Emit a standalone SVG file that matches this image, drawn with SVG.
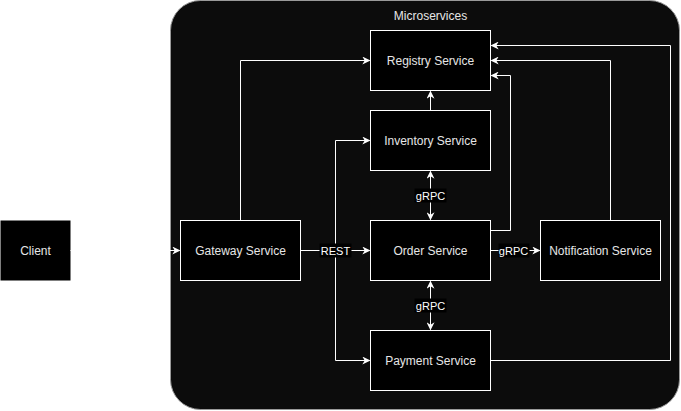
<svg xmlns="http://www.w3.org/2000/svg" width="681" height="411" viewBox="0 0 681 411">
<style>
.box{fill:#000;stroke:#fff;stroke-width:1}
.lbl{font-family:"Liberation Sans",Arial,sans-serif;font-size:12px;fill:#e6e6e6;text-anchor:middle;dominant-baseline:central}
.elbl{font-family:"Liberation Sans",Arial,sans-serif;font-size:11px;fill:#fff;text-anchor:middle;dominant-baseline:central}
.edge{fill:none;stroke:#fff;stroke-width:1}
</style>
<defs>
<marker id="arr" viewBox="0 0 10 10" refX="9" refY="5" markerWidth="8" markerHeight="8" orient="auto-start-reverse" markerUnits="userSpaceOnUse">
<path d="M0,0 L10,5 L0,10 L3,5 Z" fill="#fff"/>
</marker>
</defs>
<rect width="681" height="411" fill="#fff"/>
<g transform="translate(0.5,0.5)">
<g id="microservices">
<rect x="170" y="0" width="509" height="409" rx="30" ry="30" fill="#0c0c0c" stroke="#9a9a9a" stroke-width="1"/>
<text class="lbl" x="430" y="15">Microservices</text>
</g>
<g id="client">
<rect x="0" y="220" width="70" height="60" fill="#000"/>
<text class="lbl" x="35" y="250">Client</text>
</g>
<g id="connectors">
<path class="edge" d="M70,250 L179,250" marker-end="url(#arr)"/>
<path class="edge" d="M240,220 L240,60 L369,60" marker-end="url(#arr)"/>
<path class="edge" d="M300,250 L369,250" marker-end="url(#arr)"/>
<path class="edge" d="M335,250 L335,140 L369,140" marker-end="url(#arr)"/>
<path class="edge" d="M335,250 L335,360 L369,360" marker-end="url(#arr)"/>
<path class="edge" d="M430,110 L430,91" marker-end="url(#arr)"/>
<path class="edge" d="M430,171 L430,219" marker-start="url(#arr)" marker-end="url(#arr)"/>
<path class="edge" d="M430,281 L430,329" marker-start="url(#arr)" marker-end="url(#arr)"/>
<path class="edge" d="M490,230 L510,230 L510,75 L491,75" marker-end="url(#arr)"/>
<path class="edge" d="M610,220 L610,60 L491,60" marker-end="url(#arr)"/>
<path class="edge" d="M490,360 L670,360 L670,45 L491,45" marker-end="url(#arr)"/>
<path class="edge" d="M490,250 L539,250" marker-end="url(#arr)"/>
<rect x="319" y="243" width="32" height="14" fill="#000"/>
<text class="elbl" x="335" y="250">REST</text>
<rect x="414" y="188" width="32" height="14" fill="#000"/>
<text class="elbl" x="430" y="195">gRPC</text>
<rect x="414" y="298" width="32" height="14" fill="#000"/>
<text class="elbl" x="430" y="305">gRPC</text>
<rect x="498" y="243" width="31" height="14" fill="#000"/>
<text class="elbl" x="513" y="250">gRPC</text>
</g>
<g id="registry">
<rect class="box" x="370" y="30" width="120" height="60"/>
<text class="lbl" x="430" y="60">Registry Service</text>
</g>
<g id="inventory">
<rect class="box" x="370" y="110" width="120" height="60"/>
<text class="lbl" x="430" y="140">Inventory Service</text>
</g>
<g id="gateway">
<rect class="box" x="180" y="220" width="120" height="60"/>
<text class="lbl" x="240" y="250">Gateway Service</text>
</g>
<g id="order">
<rect class="box" x="370" y="220" width="120" height="60"/>
<text class="lbl" x="430" y="250">Order Service</text>
</g>
<g id="notification">
<rect class="box" x="540" y="220" width="120" height="60"/>
<text class="lbl" x="600" y="250">Notification Service</text>
</g>
<g id="payment">
<rect class="box" x="370" y="330" width="120" height="60"/>
<text class="lbl" x="430" y="360">Payment Service</text>
</g>
</g>
</svg>
